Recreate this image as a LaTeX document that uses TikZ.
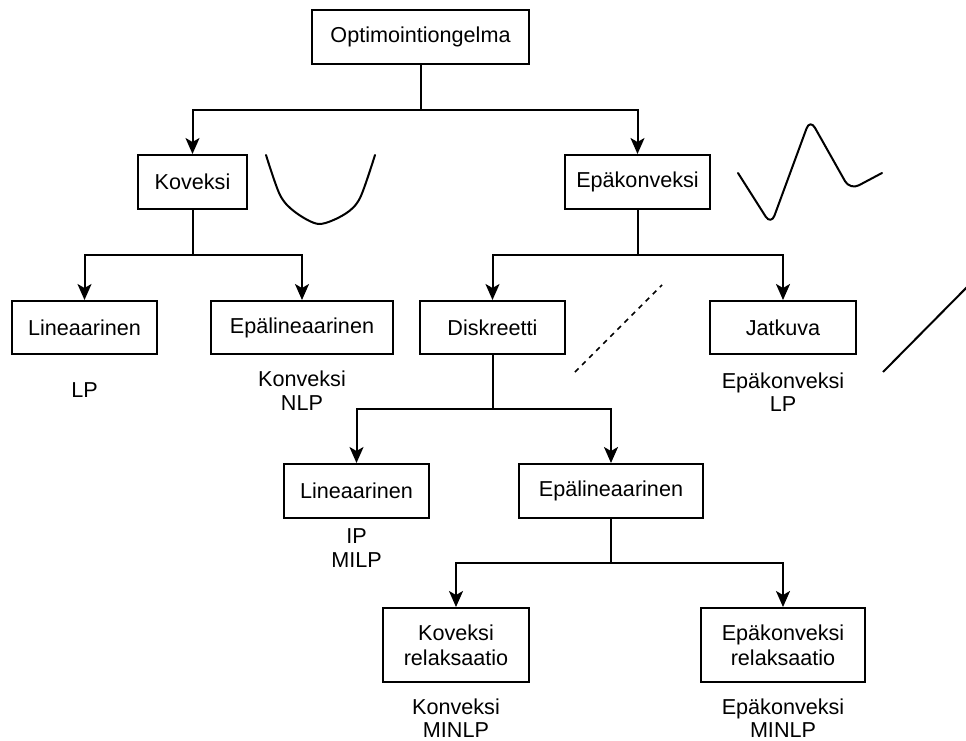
\documentclass[tikz,border=0pt]{standalone}
\usepackage{fontspec}
\setmainfont{Liberation Sans}
\usetikzlibrary{arrows.meta}
\begin{document}
\begin{tikzpicture}[x=1pt,y=-1pt,
  box/.style={draw,line width=2pt,inner sep=0pt,align=center,font=\fontsize{21.6}{25}\selectfont},
  lbl/.style={inner sep=0pt,align=center,font=\fontsize{21.6}{23.5}\selectfont},
  arr/.style={line width=2pt,-{Stealth[length=16pt,width=14pt,inset=4pt]}},
  conn/.style={line width=2pt},
  curve/.style={line width=2pt,line cap=round,line join=round}]
\useasboundingbox (0,0) rectangle (966,740);
% nodes
\node[box,minimum width=217pt,minimum height=54pt] (top) at (420.5,37) {Optimointiongelma};
\node[box,minimum width=109pt,minimum height=54pt] (kov) at (192.5,182) {Koveksi};
\node[box,minimum width=145pt,minimum height=54pt] (epk) at (637.5,182) {Epäkonveksi};
\node[box,minimum width=145pt,minimum height=53pt] (lin1) at (84.5,327.5) {Lineaarinen};
\node[box,minimum width=182pt,minimum height=53pt] (epl1) at (302,327.5) {Epälineaarinen};
\node[box,minimum width=145pt,minimum height=53pt] (disk) at (492.5,327.5) {Diskreetti};
\node[box,minimum width=146pt,minimum height=53pt] (jat) at (783,327.5) {Jatkuva};
\node[box,minimum width=145pt,minimum height=54pt] (lin2) at (356.5,491) {Lineaarinen};
\node[box,minimum width=184pt,minimum height=54pt] (epl2) at (611,491) {Epälineaarinen};
\node[box,minimum width=146pt,minimum height=74pt] (kr) at (456,645) {Koveksi\\relaksaatio};
\node[box,minimum width=164pt,minimum height=74pt] (er) at (783,645) {Epäkonveksi\\relaksaatio};
% labels
\node[lbl] (tLP) at (84.5,390) {LP};
\node[lbl] (tNLP) at (302,390.5) {Konveksi\\NLP};
\node[lbl] (tELP) at (783,392) {Epäkonveksi\\LP};
\node[lbl] (tMILP) at (356.5,548) {IP\\MILP};
\node[lbl] (tKM) at (456,718) {Konveksi\\MINLP};
\node[lbl] (tEM) at (783,718) {Epäkonveksi\\MINLP};
% junctions
\coordinate (j0) at (420.5,110);
\coordinate (j1) at (192.5,255);
\coordinate (j2) at (637.5,255);
\coordinate (j3) at (492.5,409);
\coordinate (j4) at (611,563);
% connectors
\draw[conn] (top.south) -- (j0);
\draw[arr] (j0) -| (kov.north);
\draw[arr] (j0) -| (epk.north);
\draw[conn] (kov.south) -- (j1);
\draw[arr] (j1) -| (lin1.north);
\draw[arr] (j1) -| (epl1.north);
\draw[conn] (epk.south) -- (j2);
\draw[arr] (j2) -| (disk.north);
\draw[arr] (j2) -| (jat.north);
\draw[conn] (disk.south) -- (j3);
\draw[arr] (j3) -| (lin2.north);
\draw[arr] (j3) -| (epl2.north);
\draw[conn] (epl2.south) -- (j4);
\draw[arr] (j4) -| (kr.north);
\draw[arr] (j4) -| (er.north);
% decorations
\draw[curve] plot[smooth,tension=0.5] coordinates {(266,155) (280,195) (295,212) (319,224) (345,214) (360,198) (375,155)};
\draw[curve,rounded corners=10pt] (738,173) -- (771,225) -- (810,119) -- (850,190) -- (882,173);
\draw[line width=1.6pt,dash pattern=on 5pt off 5pt] (575,372) -- (662,285);
\draw[line width=2pt] (883,372) -- (972,282);
\end{tikzpicture}
\end{document}
